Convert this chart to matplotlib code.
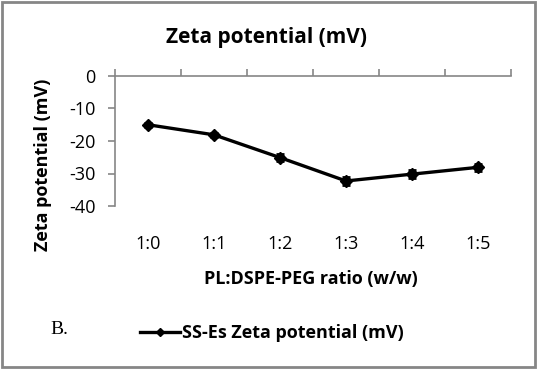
import matplotlib
matplotlib.use("Agg")
import matplotlib.pyplot as plt
import numpy as np

# data
ratios = ["1:0", "1:1", "1:2", "1:3", "1:4", "1:5"]
zeta = [-15.0, -18.1, -25.1, -32.3, -30.2, -28.1]
zeta_err = [0.6, 0.7, 1.0, 1.3, 1.2, 1.1]
y_ticks = [0, -10, -20, -30, -40]

plt.rcParams['font.family'] = ['Open Sans', 'DejaVu Sans']
grey = '#868686'
W, H = 538, 370

fig = plt.figure(figsize=(W / 100, H / 100), dpi=100)
ax = fig.add_axes([115/W, 1 - 206/H, 396/W, 130/H])

x = np.arange(len(ratios))
eb = ax.errorbar(x, zeta, yerr=zeta_err, color='black', lw=2.4, marker='D', ms=6,
                 capsize=3.2, capthick=2, elinewidth=1.8)

ax.set_xlim(-0.5, len(ratios) - 0.5)
ax.set_ylim(-40, 0)
ax.set_yticks(y_ticks)
ax.set_yticklabels([str(v) for v in y_ticks])

# category labels sit low, below the plot area
ax.set_xticks(x)
ax.set_xticklabels(ratios)
ax.tick_params(axis='x', which='major', length=0, pad=21, labelsize=13)
# tick marks between categories on the axis at y=0, pointing up
ax.set_xticks(np.arange(-0.5, len(ratios), 1), minor=True)
ax.tick_params(axis='x', which='minor', top=True, bottom=False, direction='out',
               length=5, color=grey, width=1.2)
ax.tick_params(axis='y', direction='out', length=5, color=grey, width=1.2,
               labelsize=13, pad=9)

for s in ['right', 'bottom']:
    ax.spines[s].set_visible(False)
for s in ['left', 'top']:
    ax.spines[s].set_color(grey)
    ax.spines[s].set_linewidth(1.2)

fig.text(266/W, 1 - 37/H, 'Zeta potential (mV)', ha='center', va='center',
         fontsize=15, fontweight='bold')
fig.text(43/W, 1 - 165/H, 'Zeta potential (mV)', ha='center', va='center',
         rotation=90, fontsize=13, fontweight='bold')
fig.text(311/W, 1 - 279/H, 'PL:DSPE-PEG ratio (w/w)', ha='center', va='center',
         fontsize=13, fontweight='bold')
fig.text(50/W, 1 - 329/H, 'B.', ha='left', va='center', fontsize=14,
         family='Liberation Serif')

# legend shows only the line with its small diamond, no error bar
leg_line = plt.Line2D([], [], color='black', lw=2.4, marker='D', ms=4.5)
fig.legend([leg_line], ['SS-Es Zeta potential (mV)'], loc='center left',
           bbox_to_anchor=(140/W, 1 - 333/H), frameon=False,
           handlelength=2.2, handletextpad=0.1, borderaxespad=0, borderpad=0,
           prop={'weight': 'bold', 'size': 13})

fig.add_artist(plt.Rectangle((2/W, 3/H), 533/W, 365/H, transform=fig.transFigure,
                             fill=False, edgecolor=grey, lw=2))

fig.savefig('out.png', dpi=100)
